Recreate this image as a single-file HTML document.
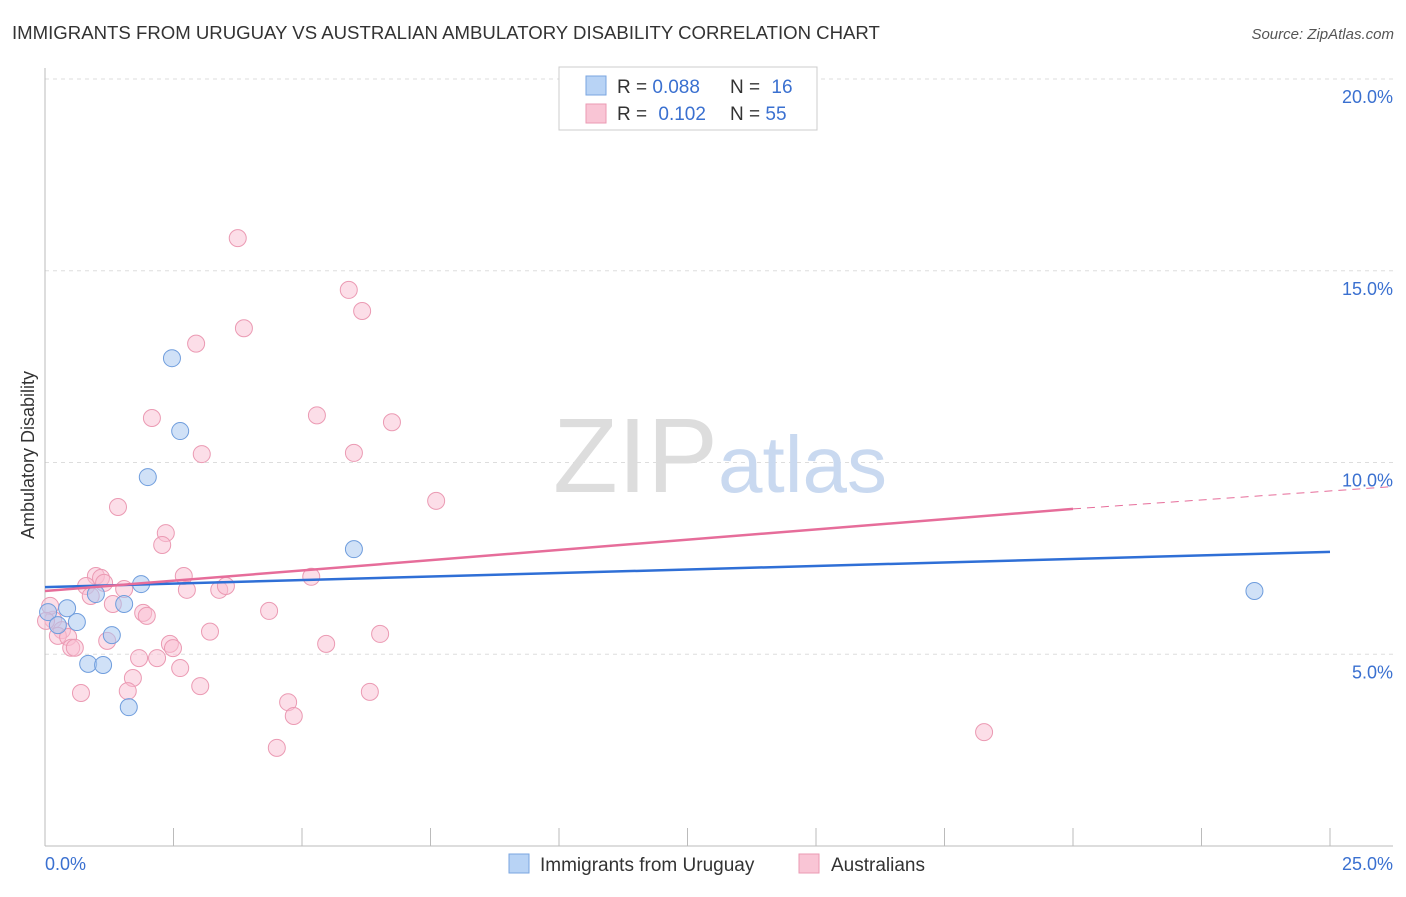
<!DOCTYPE html>
<html><head><meta charset="utf-8"><style>
body{margin:0;background:#fff;font-family:"Liberation Sans",sans-serif;}
svg text{font-family:"Liberation Sans",sans-serif;}
</style></head><body>
<svg width="1406" height="892">
<text x="12" y="39" font-size="18.6" fill="#333">IMMIGRANTS FROM URUGUAY VS AUSTRALIAN AMBULATORY DISABILITY CORRELATION CHART</text>
<text x="1394" y="39" font-size="15" fill="#555" font-style="italic" text-anchor="end">Source: ZipAtlas.com</text>
<g id="grid"></g>
<g id="axes"></g>
<text x="553" y="492" font-size="106" fill="#ddd" font-family="Liberation Serif">ZIP</text>
<text x="718" y="492" font-size="80" fill="#c9d9f0">atlas</text>
<text transform="translate(34,455) rotate(-90)" font-size="18" fill="#333" text-anchor="middle">Ambulatory Disability</text>
<g id="pts"></g>
<g id="lines"></g>
<g>
<rect x="559" y="67" width="258" height="63" fill="#fff" stroke="#ccc"/>
<rect x="586" y="76" width="20" height="19" fill="#b8d3f5" stroke="#7aa6e0"/>
<rect x="586" y="104" width="20" height="19" fill="#f9c5d5" stroke="#eb9ab3"/>
<text x="617" y="93" font-size="19" fill="#333">R = <tspan fill="#3a70d0">0.088</tspan></text>
<text x="730" y="93" font-size="19" fill="#333">N = <tspan fill="#3a70d0" dx="6">16</tspan></text>
<text x="617" y="120" font-size="19" fill="#333">R = <tspan fill="#3a70d0" dx="6">0.102</tspan></text>
<text x="730" y="120" font-size="19" fill="#333">N = <tspan fill="#3a70d0">55</tspan></text>
</g>
<g>
<rect x="509" y="854" width="20" height="19" fill="#b8d3f5" stroke="#7aa6e0"/>
<text x="540" y="871" font-size="19" fill="#333">Immigrants from Uruguay</text>
<rect x="799" y="854" width="20" height="19" fill="#f9c5d5" stroke="#eb9ab3"/>
<text x="831" y="871" font-size="19" fill="#333">Australians</text>
</g>
</svg>
<script>
const xTicks=[0,2.5,5,7.5,10,12.5,15,17.5,20,22.5,25];
const yTicks=[5,10,15,20];
const yTickLabels=["5.0%","10.0%","15.0%","20.0%"];
const blueX=[0.06,0.43,0.25,0.62,0.84,1.13,0.99,1.30,1.54,1.63,1.87,2.00,2.47,2.63,6.01,23.53];
const blueY=[6.10,6.20,5.76,5.84,4.75,4.72,6.57,5.50,6.31,3.62,6.83,9.62,12.72,10.82,7.74,6.65];
const pinkX=[3.75,5.91,6.17,3.87,2.94,2.08,5.29,6.75,3.05,6.01,7.61,1.42,2.35,2.28,0.99,1.09,0.80,1.15,1.54,2.70,2.76,3.39,3.52,5.18,0.89,1.32,1.91,1.98,4.36,0.16,0.33,0.25,0.45,1.21,0.51,0.58,3.21,5.47,6.52,2.43,2.49,1.83,2.18,2.63,1.71,0.70,1.61,3.02,4.73,4.84,6.32,4.51,18.27,0.10,0.02];
const pinkY=[15.85,14.50,13.95,13.50,13.10,11.16,11.23,11.05,10.22,10.25,9.00,8.84,8.16,7.85,7.04,6.99,6.78,6.86,6.70,7.04,6.68,6.68,6.78,7.02,6.52,6.31,6.08,6.00,6.13,5.90,5.63,5.48,5.45,5.35,5.17,5.17,5.59,5.27,5.53,5.27,5.16,4.90,4.90,4.64,4.38,3.99,4.04,4.17,3.75,3.39,4.02,2.56,2.97,6.26,5.87];
const blueLine=[[0,6.75],[25,7.67]];
const pinkLine=[[0,6.65],[20,8.79],[26.2,9.37]];
const X=v=>45+v*51.4, Y=v=>846-v*38.35;
const NS="http://www.w3.org/2000/svg";
function mk(t,a,p){const e=document.createElementNS(NS,t);for(const k in a)e.setAttribute(k,a[k]);p.appendChild(e);return e;}
const grid=document.getElementById('grid'),axes=document.getElementById('axes');
yTicks.forEach((t,i)=>{
 const l=mk('line',{x1:45,x2:1393,y1:Y(t),y2:Y(t),stroke:'#ddd','stroke-dasharray':'4,4'},grid);
 
 
 const tx=mk('text',{x:1393,y:Y(t)+24,'font-size':18,fill:'#3a70d0','text-anchor':'end'},axes);
 tx.textContent=yTickLabels[i];
 
 
});
mk('line',{x1:45,x2:45,y1:68,y2:846,stroke:'#bbb'},axes);
mk('line',{x1:45,x2:1393,y1:846,y2:846,stroke:'#bbb'},axes);
xTicks.forEach(t=>{const l=mk('line',{x1:X(t),x2:X(t),y1:828,y2:846,stroke:'#bbb'},axes);
 
 });
let a=mk('text',{x:45,y:870,'font-size':18,fill:'#3a70d0'},axes);a.textContent=xTicks[0].toFixed(1)+'%';


a=mk('text',{x:1393,y:870,'font-size':18,fill:'#3a70d0','text-anchor':'end'},axes);a.textContent=xTicks[xTicks.length-1].toFixed(1)+'%';


const pts=document.getElementById('pts');
pinkX.forEach((x,i)=>{const c=mk('circle',{cx:X(x),cy:Y(pinkY[i]),r:8.5,fill:'rgba(249,190,210,0.5)',stroke:'#eb9ab3','stroke-width':1},pts);
 
 });
blueX.forEach((x,i)=>{const c=mk('circle',{cx:X(x),cy:Y(blueY[i]),r:8.5,fill:'rgba(170,200,240,0.55)',stroke:'#6f9ddd','stroke-width':1},pts);
 
 });
const lines=document.getElementById('lines');
let bl=mk('line',{x1:X(blueLine[0][0]),y1:Y(blueLine[0][1]),x2:X(blueLine[1][0]),y2:Y(blueLine[1][1]),stroke:'#2f6fd6','stroke-width':2.5},lines);


let pl=mk('line',{x1:X(pinkLine[0][0]),y1:Y(pinkLine[0][1]),x2:X(pinkLine[1][0]),y2:Y(pinkLine[1][1]),stroke:'#e66d9a','stroke-width':2.5},lines);


let pd=mk('line',{x1:X(pinkLine[1][0]),y1:Y(pinkLine[1][1]),x2:X(pinkLine[2][0]),y2:Y(pinkLine[2][1]),stroke:'#e66d9a','stroke-width':1,'stroke-dasharray':'8,6'},lines);


</script>
</body></html>
